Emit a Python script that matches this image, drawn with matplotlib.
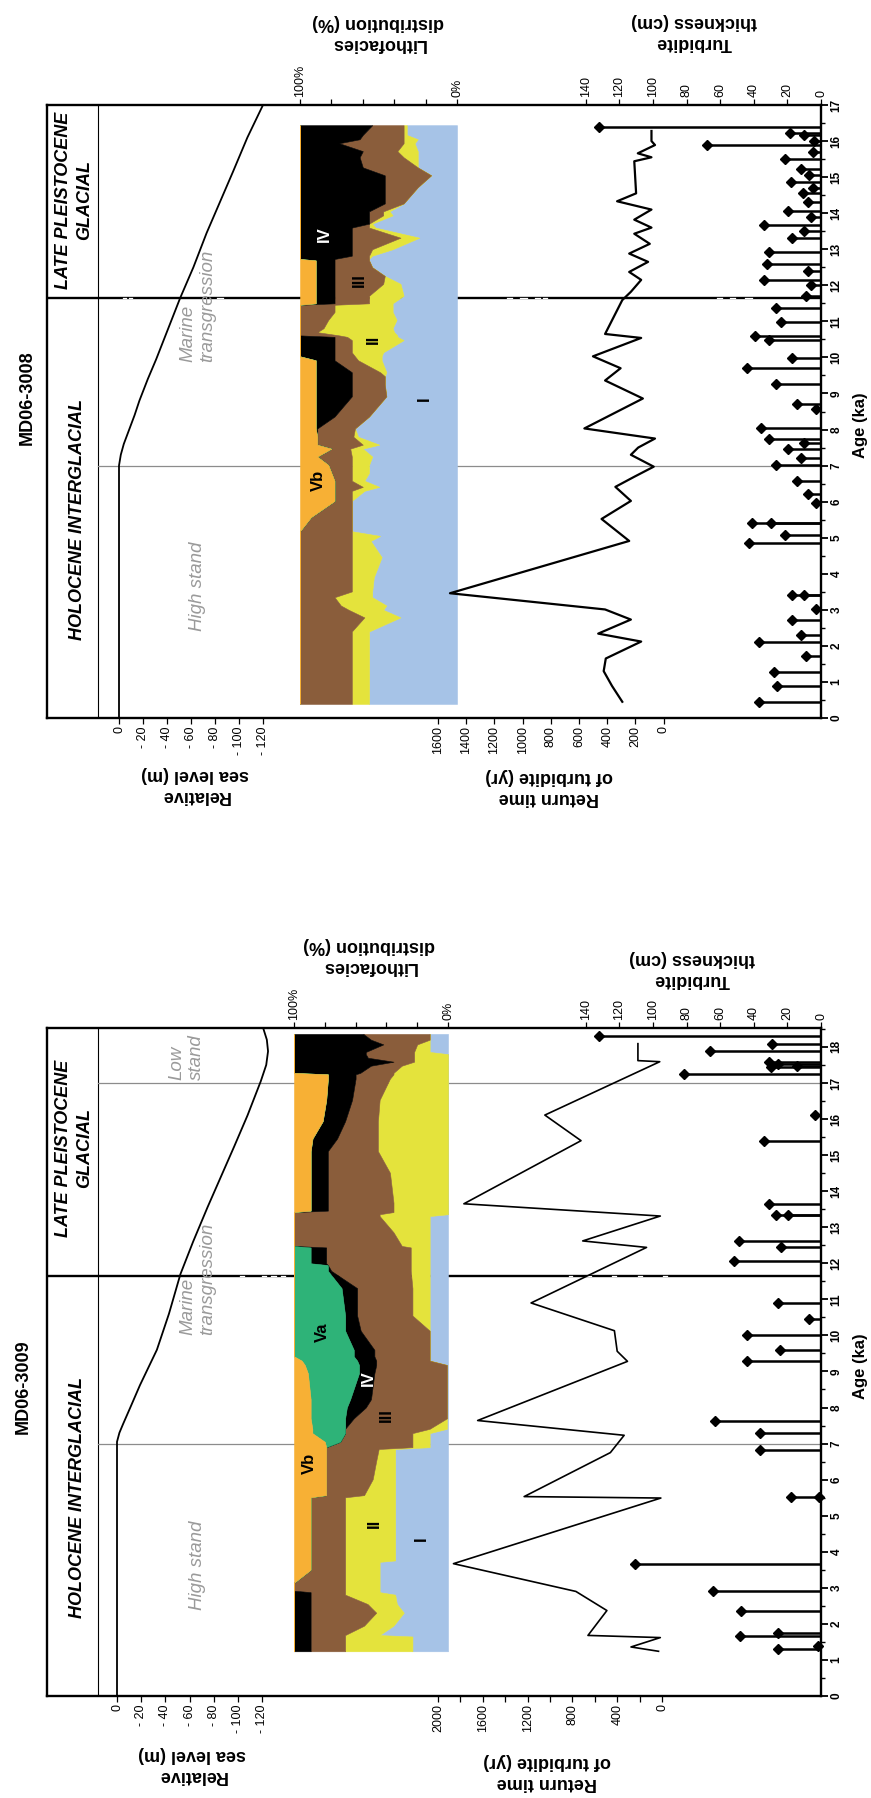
import matplotlib
matplotlib.use('Agg')
import matplotlib.pyplot as plt
from matplotlib.ticker import MultipleLocator, FixedLocator, FixedFormatter

plt.rcParams['font.family'] = ['Liberation Sans', 'DejaVu Sans']

W, H = 871, 1798

# ====================== DATA ======================
# ---- MD06-3008 (upper panel) ----
sl_age_08 = [0, 7.0, 7.3, 7.6, 8.0, 8.4, 8.8, 9.4, 9.95, 10.8, 11.65, 12.5, 13.45, 14.3, 15.15, 16.1, 17.0]
sl_m_08 = [0, 0, -1.5, -4, -8.5, -13, -17, -24, -31, -41, -51, -62, -73, -84, -95, -107, -120]

lith_age_08 = [0.39, 1.78, 2.40, 2.79, 3.00, 3.12, 3.35, 3.51, 3.90, 4.46, 4.91, 5.05, 5.18, 5.57, 6.02,
               6.30, 6.41, 6.58, 6.80, 7.02, 7.25, 7.47, 7.58, 7.80, 8.03, 8.36, 8.92, 9.25, 9.48, 9.59,
               9.92, 10.03, 10.14, 10.48, 10.57, 10.61, 10.70, 10.81, 11.04, 11.26, 11.46, 11.50, 11.71,
               12.04, 12.26, 12.50, 12.69, 12.73, 12.82, 13.00, 13.32, 13.60, 13.71, 13.94, 14.05, 14.27,
               14.72, 15.05, 15.27, 15.55, 15.72, 15.94, 16.05, 16.17, 16.44]
lith_I_08 = [56, 56, 56, 36, 47, 45, 54, 54, 53, 48, 55, 49, 67, 67, 67,
             59, 49.5, 59, 56, 56, 54, 60, 49.5, 63, 65, 56, 45, 46, 46, 45,
             48, 48, 47, 34, 38, 38, 40, 41, 38.5, 41, 41, 41, 34,
             36, 46, 54, 56, 56, 54, 41, 24, 52, 54, 41, 43, 34,
             25, 16.5, 25, 25, 25, 27, 25, 32, 32]
lith_II_08 = [67, 67, 67, 59, 69, 74, 78, 67, 67, 67, 67, 67, 67, 67, 67,
              67, 60, 67, 67, 67, 67, 68, 60, 66, 65, 56, 45, 46, 46, 49,
              63, 65, 67, 67, 70, 75, 89, 85, 82, 78, 78, 56, 56,
              47, 46, 54, 56, 56, 56, 54, 36, 56, 56, 47, 47, 34,
              25, 16.5, 25, 34, 38, 34, 34, 34, 34]
lith_III_08 = [100, 100, 100, 100, 100, 100, 100, 100, 100, 100, 100, 100, 100, 93, 78,
               78, 78, 78, 80, 82, 89, 80, 89, 89, 89, 78, 67, 67, 67, 67,
               78, 78, 78, 78, 78, 100, 100, 100, 100, 100, 100, 78, 78,
               78, 78, 78, 78, 78, 67, 67, 67, 67, 56, 56, 56, 46,
               46, 46, 60, 62, 60, 75, 62, 60, 54]
lith_IV_08 = [100, 100, 100, 100, 100, 100, 100, 100, 100, 100, 100, 100, 100, 93, 78,
              78, 78, 78, 80, 82, 89, 80, 89, 89, 90, 90, 90, 90, 90, 90,
              90, 100, 100, 100, 100, 100, 100, 100, 100, 100, 100, 90, 90,
              90, 90, 90, 90, 100, 100, 100, 100, 100, 100, 100, 100, 100,
              100, 100, 100, 100, 100, 100, 100, 100, 100]

rt_age_08 = [0.45, 0.89, 1.30, 1.65, 2.12, 2.34, 2.73, 3.01, 3.46, 4.91, 5.52, 6.02, 6.41, 6.69, 6.97,
             7.30, 7.50, 7.75, 8.03, 8.86, 9.36, 9.70, 10.03, 10.54, 10.65, 11.59, 11.82, 12.15, 12.37,
             12.65, 12.88, 13.15, 13.43, 13.60, 13.82, 14.10, 14.33, 14.55, 15.44, 15.55, 15.66, 15.89,
             16.00, 16.28]
rt_yr_08 = [293, 366, 425, 410, 159, 464, 232, 415, 1515, 244, 440, 232, 342, 208, 70,
            232, 180, 61, 562, 147, 415, 305, 501, 159, 415, 293, 232, 159, 244,
            110, 244, 98, 208, 86, 208, 86, 330, 195, 208, 86, 183, 61,
            86, 86]

st_age_08 = [0.45, 0.89, 1.28, 1.73, 2.12, 2.29, 2.73, 3.01, 3.40, 3.40, 4.85, 5.07, 5.41, 5.41, 5.97,
             6.20, 6.58, 7.02, 7.20, 7.47, 7.62, 7.75, 8.03, 8.58, 8.70, 9.25, 9.70, 9.98, 10.48, 10.59,
             10.98, 11.37, 11.70, 12.00, 12.15, 12.40, 12.60, 12.93, 13.30, 13.50, 13.66, 13.90, 14.05,
             14.30, 14.55, 14.70, 14.87, 15.05, 15.22, 15.50, 15.70, 15.89, 16.00, 16.17, 16.22, 16.39]
st_cm_08 = [37, 26, 28, 9, 37, 12, 17.5, 3, 17.5, 10, 43, 21.6, 41, 30, 3,
            8, 14.4, 27, 12, 19.6, 10, 31, 36, 3, 14.4, 27, 44, 17.5, 31, 39,
            24, 27, 9, 6, 34, 8, 32, 31, 17, 10, 34, 6, 19.6,
            8, 11, 5, 18, 7, 12, 21.6, 5, 68, 4, 10, 18.5, 132]

# ---- MD06-3009 (lower panel) ----
sl_age_09 = [0, 7.05, 7.3, 7.54, 8.0, 8.62, 9.6, 10.6, 11.7, 12.6, 13.56, 14.4, 15.24, 16.1, 17.05,
             17.5, 17.88, 18.2, 18.52]
sl_m_09 = [0, 0, -2, -5, -11, -19, -33, -43, -52.5, -63, -75, -86, -97, -108, -119,
           -123.5, -125, -124, -121]

lith_age_09 = [1.24, 1.65, 1.69, 1.95, 2.31, 2.55, 2.81, 2.88, 2.92, 3.14, 3.50, 3.72, 3.76, 5.51, 5.57,
               6.01, 6.52, 6.85, 6.90, 7.05, 7.29, 7.41, 7.70, 8.00, 8.23, 8.95, 9.18, 9.30, 9.42, 9.60,
               10.13, 10.55, 11.31, 11.79, 11.95, 12.00, 12.44, 12.48, 12.86, 13.31, 13.36, 13.42, 13.46,
               13.68, 14.51, 15.11, 15.46, 15.94, 16.53, 17.12, 17.24, 17.28, 17.48, 17.59, 17.70, 17.80,
               17.86, 18.07, 18.20, 18.36]
lith_I_09 = [23.1, 23.1, 44.4, 35.4, 28.7, 33.2, 34.3, 44.4, 44.4, 44.4, 44.4, 44.4, 34.3, 34.3, 34.3,
             34.3, 34.3, 34.3, 11.9, 11.9, 11.9, 0.7, 0.7, 0.7, 0.7, 0.7, 0.7, 11.9, 11.9, 11.9,
             11.9, 11.9, 11.9, 11.9, 11.9, 11.9, 11.9, 11.9, 11.9, 11.9, 0, 0, 0,
             0, 0, 0, 0, 0, 0, 0, 0, 0, 0, 0, 0, 0,
             11.9, 11.9, 11.9, 11.9]
lith_II_09 = [66.8, 66.8, 66.8, 54.5, 46.6, 52.2, 66.8, 66.8, 66.8, 66.8, 66.8, 66.8, 66.8, 66.8, 54.5,
              48.9, 46.6, 45.0, 23.1, 23.1, 23.1, 11.9, 0.7, 0.7, 0.7, 0.7, 0.7, 11.9, 11.9, 11.9,
              11.9, 23.1, 23.1, 24.2, 24.2, 24.2, 24.2, 30, 35.4, 44.4, 44.4, 35.4, 35.4,
              35.4, 37.7, 45.5, 45.5, 45.5, 44.4, 37.7, 35.4, 35.4, 30, 22, 22, 22,
              22, 20, 11.9, 11.9]
lith_III_09 = [89.2, 89.2, 89.2, 89.2, 89.2, 89.2, 89.2, 89.2, 100, 100, 89.2, 89.2, 89.2, 89.2, 79.1,
               79.1, 79.1, 79.1, 79.1, 70, 66.8, 66.8, 61.2, 53.4, 50, 47.8, 46.6, 46.6, 47.8, 47.8,
               56.7, 59, 59, 75.8, 78, 79.1, 79.1, 100, 100, 100, 100, 100, 78,
               78, 78, 78, 72, 66.8, 62.3, 60, 60, 57, 50, 35.4, 52, 53.4,
               53.4, 42, 50, 55]
lith_IV_09 = [100, 100, 100, 100, 100, 100, 100, 100, 100, 100, 89.2, 89.2, 89.2, 89.2, 79.1,
              79.1, 79.1, 79.1, 79.1, 70, 66.8, 66.8, 66.8, 65.7, 63.5, 57.8, 57.8, 59, 61.2, 61.2,
              66.8, 66.8, 69.1, 78, 78, 89.2, 89.2, 100, 100, 100, 100, 100, 89.2,
              89.2, 89.2, 89.2, 88, 81.4, 79.1, 78, 78, 100, 100, 100, 100, 100,
              100, 100, 100, 100]
lith_Va_09 = [100, 100, 100, 100, 100, 100, 100, 100, 100, 100, 89.2, 89.2, 89.2, 89.2, 79.1,
              79.1, 79.1, 79.1, 79.1, 80, 88.1, 88.1, 89.2, 89.2, 89.2, 91, 93, 95, 100, 100,
              100, 100, 100, 100, 100, 100, 100, 100, 100, 100, 100, 100, 89.2,
              89.2, 89.2, 89.2, 88, 81.4, 79.1, 78, 78, 100, 100, 100, 100, 100,
              100, 100, 100, 100]

rt_age_09 = [1.24, 1.36, 1.62, 1.68, 2.37, 2.90, 3.67, 5.49, 5.53, 6.75, 7.23, 7.64, 9.28, 9.56, 10.13,
             10.90, 12.44, 12.62, 13.31, 13.65, 15.40, 16.11, 17.59, 17.62, 18.09]
rt_yr_09 = [31, 277, 15, 661, 492, 769, 1862, 10, 1231, 461, 338, 1646, 308, 400, 425,
            1169, 138, 708, 15, 1769, 723, 1046, 20, 215, 215]

st_age_09 = [1.30, 1.40, 1.66, 1.74, 2.37, 2.90, 3.67, 5.51, 5.53, 6.81, 7.29, 7.64, 9.28, 9.60, 10.01,
             10.46, 10.90, 12.05, 12.44, 12.62, 13.33, 13.35, 13.65, 15.40, 16.11, 17.24, 17.45, 17.48,
             17.54, 17.59, 17.89, 18.09, 18.31]
st_cm_09 = [25.8, 2, 48.5, 25.8, 47.4, 64.5, 111, 1, 18, 36.5, 36.5, 63, 44, 24.7, 44,
            7.2, 25.4, 52, 24, 49, 19.6, 27, 31, 34, 3.5, 81.5, 30, 14.4,
            25.8, 31, 66, 28.9, 132]

sl_ticks = [0, -20, -40, -60, -80, -100, -120]
sl_ticklabels = ['0', '- 20', '- 40', '- 60', '- 80', '- 100', '- 120']
lith_ticks = [100, 80, 60, 40, 20, 0]
lith_ticklabels = ['100%', '', '', '', '', '0%']
turb_ticks = [140, 120, 100, 80, 60, 40, 20, 0]

C_I, C_II, C_III, C_IV, C_VA, C_VB = '#A6C3E7', '#E4E33C', '#8A5D3B', '#000000', '#2EB378', '#F7B035'
GRAY_TXT = '#9a9a9a'

# ====================== FIGURE ======================
fig = plt.figure(figsize=(W / 100, H / 100), dpi=100)


def box(x0, x1, y0, y1, z=2):
    ax = fig.add_axes([x0 / W, 1 - y1 / H, (x1 - x0) / W, (y1 - y0) / H], zorder=z)
    ax.patch.set_alpha(0)
    return ax


def T(x, y, s, **kw):
    kw.setdefault('ha', 'center')
    kw.setdefault('va', 'center')
    fig.text(x / W, 1 - y / H, s, **kw)


def sub(x0, x1, y0, y1, ymax, xlim):
    ax = box(x0, x1, y0, y1, z=3)
    ax.set_ylim(0, ymax)
    ax.set_xlim(*xlim)
    for s in ax.spines.values():
        s.set_visible(False)
    ax.set_yticks([])
    return ax


def panel(P):
    y0, y1, ymax = P['y0'], P['y1'], P['ymax']
    FX0, FX1 = 47, 821
    axf = box(FX0, FX1, y0, y1, z=1)
    axf.set_xlim(0, 1)
    axf.set_ylim(0, ymax)
    for s in axf.spines.values():
        s.set_linewidth(1.7)
    axf.xaxis.set_visible(False)
    axf.yaxis.tick_right()
    axf.yaxis.set_major_locator(MultipleLocator(1))
    axf.yaxis.set_minor_locator(MultipleLocator(0.5))
    axf.tick_params(axis='y', which='major', direction='out', length=5, width=1.3,
                    labelsize=8.5, pad=2, labelrotation=90)
    axf.tick_params(axis='y', which='minor', direction='out', length=3, width=1.0)
    plt.setp(axf.yaxis.get_majorticklabels(), fontweight='bold', va='center')
    fr = lambda x: (x - FX0) / (FX1 - FX0)
    axf.plot([fr(98), fr(98)], [0, ymax], color='k', lw=0.8)
    for a in P['gray_lines']:
        axf.plot([fr(98), 1], [a, a], color='#8c8c8c', lw=0.9)
    axf.plot([0, 1], [11.65, 11.65], color='k', lw=1.7)
    # small white axis-break marks on the glacial/interglacial boundary
    for xa, xb in P['breaks']:
        axf.plot([fr(xa), fr(xb)], [11.65, 11.65], color='white', lw=0.9, zorder=5)

    # sea level
    x0s, x120 = P['sl_px']
    ppm = (x120 - x0s) / 120.0
    axs = sub(99, 290, y0, y1, ymax, ((x0s - 99) / ppm, -(290 - x0s) / ppm))
    axs.plot(P['sl_m'], P['sl_age'], color='k', lw=1.3)
    axs.xaxis.set_major_locator(FixedLocator(sl_ticks))
    axs.xaxis.set_major_formatter(FixedFormatter(sl_ticklabels))
    axs.tick_params(axis='x', direction='out', length=4, width=0.9, labelsize=9,
                    labelrotation=90, pad=2)

    # lithofacies
    lx0, lx1 = P['lith_px']
    axl = sub(lx0, lx1, y0, y1, ymax, (100, 0))
    ag = P['lith_age']
    layers = [([0] * len(ag), P['c1'], C_I), (P['c1'], P['c2'], C_II), (P['c2'], P['c3'], C_III),
              (P['c3'], P['c4'], C_IV), (P['c4'], P['c5'], C_VA), (P['c5'], [100] * len(ag), C_VB)]
    for lo, hi, col in layers:
        axl.fill_betweenx(ag, lo, hi, color=col, lw=0.4, edgecolor=col)
    axl.xaxis.set_ticks_position('top')
    axl.xaxis.set_major_locator(FixedLocator(lith_ticks))
    axl.xaxis.set_major_formatter(FixedFormatter(lith_ticklabels))
    axl.tick_params(axis='x', direction='out', length=4, width=0.9, labelsize=9,
                    labelrotation=90, pad=2)
    for (xp, a, s, c) in P['lith_labels']:
        axl.text(xp, a, s, rotation=90, ha='center', va='center', fontsize=12,
                 fontweight='bold', color=c)

    # return time
    rx0, rx1, rmax = P['rt_px']
    axr = sub(rx0, rx1, y0, y1, ymax, (rmax, 0))
    axr.plot(P['rt_yr'], P['rt_age'], color='k', lw=P['rt_lw'])
    axr.xaxis.set_major_locator(MultipleLocator(P['rt_major']))
    axr.xaxis.set_minor_locator(MultipleLocator(200))
    axr.tick_params(axis='x', which='both', direction='out', length=4, width=0.9,
                    labelsize=9, labelrotation=90, pad=2)

    # turbidite thickness
    axt = sub(585, 821, y0, y1, ymax, (140.5, 0))
    axt.hlines(P['st_age'], 0, P['st_cm'], color='k', lw=1.8, clip_on=False)
    axt.plot(P['st_cm'], P['st_age'], 'D', color='k', ms=5, clip_on=False)
    axt.xaxis.set_ticks_position('top')
    axt.xaxis.set_major_locator(FixedLocator(turb_ticks))
    axt.tick_params(axis='x', direction='out', length=4, width=0.9, labelsize=9,
                    labelrotation=90, pad=2)


P08 = dict(y0=105, y1=718, ymax=17.0, gray_lines=[7.0],
           breaks=[(123, 126), (129, 132), (217, 223), (507, 512), (520, 527), (535, 540), (543, 547),
                   (717, 722), (730, 735), (745, 752)],
           sl_age=sl_age_08, sl_m=sl_m_08, sl_px=(119, 263),
           lith_px=(300, 457), lith_age=lith_age_08, c1=lith_I_08, c2=lith_II_08,
           c3=lith_III_08, c4=lith_IV_08, c5=lith_IV_08,
           lith_labels=[(21, 8.85, 'I', 'k'), (53, 10.5, 'II', 'k'), (62, 12.15, 'III', 'k'),
                        (84.5, 13.43, 'IV', 'white'), (88, 6.58, 'Vb', 'k')],
           rt_px=(438, 663.6, 1600), rt_age=rt_age_08, rt_yr=rt_yr_08, rt_lw=1.6, rt_major=200,
           st_age=st_age_08, st_cm=st_cm_08)

P09 = dict(y0=1028, y1=1696, ymax=(1696 - 1028) / 36.06, gray_lines=[7.0, 17.0],
           breaks=[(240, 244), (262, 266), (271, 276), (281, 285), (569, 572), (587, 591),
                   (612, 616), (638, 642), (663, 667)],
           sl_age=sl_age_09, sl_m=sl_m_09, sl_px=(117, 262),
           lith_px=(294, 448), lith_age=lith_age_09, c1=lith_I_09, c2=lith_II_09,
           c3=lith_III_09, c4=lith_IV_09, c5=lith_Va_09,
           lith_labels=[(17.5, 4.37, 'I', 'k'), (48, 4.78, 'II', 'k'), (40, 7.8, 'III', 'k'),
                        (52, 8.82, 'IV', 'white'), (81.4, 10.1, 'Va', 'k'), (90, 6.44, 'Vb', 'k')],
           rt_px=(438, 662, 2000), rt_age=rt_age_09, rt_yr=rt_yr_09, rt_lw=1.2, rt_major=400,
           st_age=st_age_09, st_cm=st_cm_09)

panel(P08)
panel(P09)

# ---- texts: upper panel (MD06-3008) ----
bold = dict(fontweight='bold', fontsize=13)
bi = dict(fontweight='bold', fontstyle='italic', fontsize=13)
gi = dict(fontstyle='italic', fontsize=13.5, color=GRAY_TXT)

T(27, 398, 'MD06-3008', rotation=90, **bold)
T(77, 520, 'HOLOCENE INTERGLACIAL', rotation=90, **bi)
T(74, 200, 'LATE PLEISTOCENE\nGLACIAL', rotation=90, linespacing=1.25, multialignment='center', **bi)
T(197, 586, 'High stand', rotation=90, **gi)
T(198, 306, 'Marine\ntransgression', rotation=90, linespacing=1.2, multialignment='left', **gi)
T(195, 785, 'Relative\nsea level (m)', rotation=180, linespacing=1.25, multialignment='center', **bold)
T(549, 787, 'Return time\nof turbidite (yr)', rotation=180, linespacing=1.25, multialignment='center', **bold)
T(378, 33, 'Lithofacies\ndistribution (%)', rotation=180, linespacing=1.25, multialignment='center', **bold)
T(694, 32, 'Turbidite\nthickness (cm)', rotation=180, linespacing=1.25, multialignment='center', **bold)
T(860, 425, 'Age (ka)', rotation=90, fontweight='bold', fontsize=12)

# ---- texts: lower panel (MD06-3009) ----
T(23, 1387, 'MD06-3009', rotation=90, **bold)
T(77, 1498, 'HOLOCENE INTERGLACIAL', rotation=90, **bi)
T(74, 1148, 'LATE PLEISTOCENE\nGLACIAL', rotation=90, linespacing=1.25, multialignment='center', **bi)
T(197, 1565, 'High stand', rotation=90, **gi)
T(198, 1279, 'Marine\ntransgression', rotation=90, linespacing=1.2, multialignment='left', **gi)
T(187, 1057, 'Low\nstand', rotation=90, linespacing=1.2, multialignment='left', **gi)
T(192, 1765, 'Relative\nsea level (m)', rotation=180, linespacing=1.25, multialignment='center', **bold)
T(547, 1772, 'Return time\nof turbidite (yr)', rotation=180, linespacing=1.25, multialignment='center', **bold)
T(369, 956, 'Lithofacies\ndistribution (%)', rotation=180, linespacing=1.25, multialignment='center', **bold)
T(692, 969, 'Turbidite\nthickness (cm)', rotation=180, linespacing=1.25, multialignment='center', **bold)
T(860, 1366, 'Age (ka)', rotation=90, fontweight='bold', fontsize=12)

fig.savefig('out.png', dpi=100)
